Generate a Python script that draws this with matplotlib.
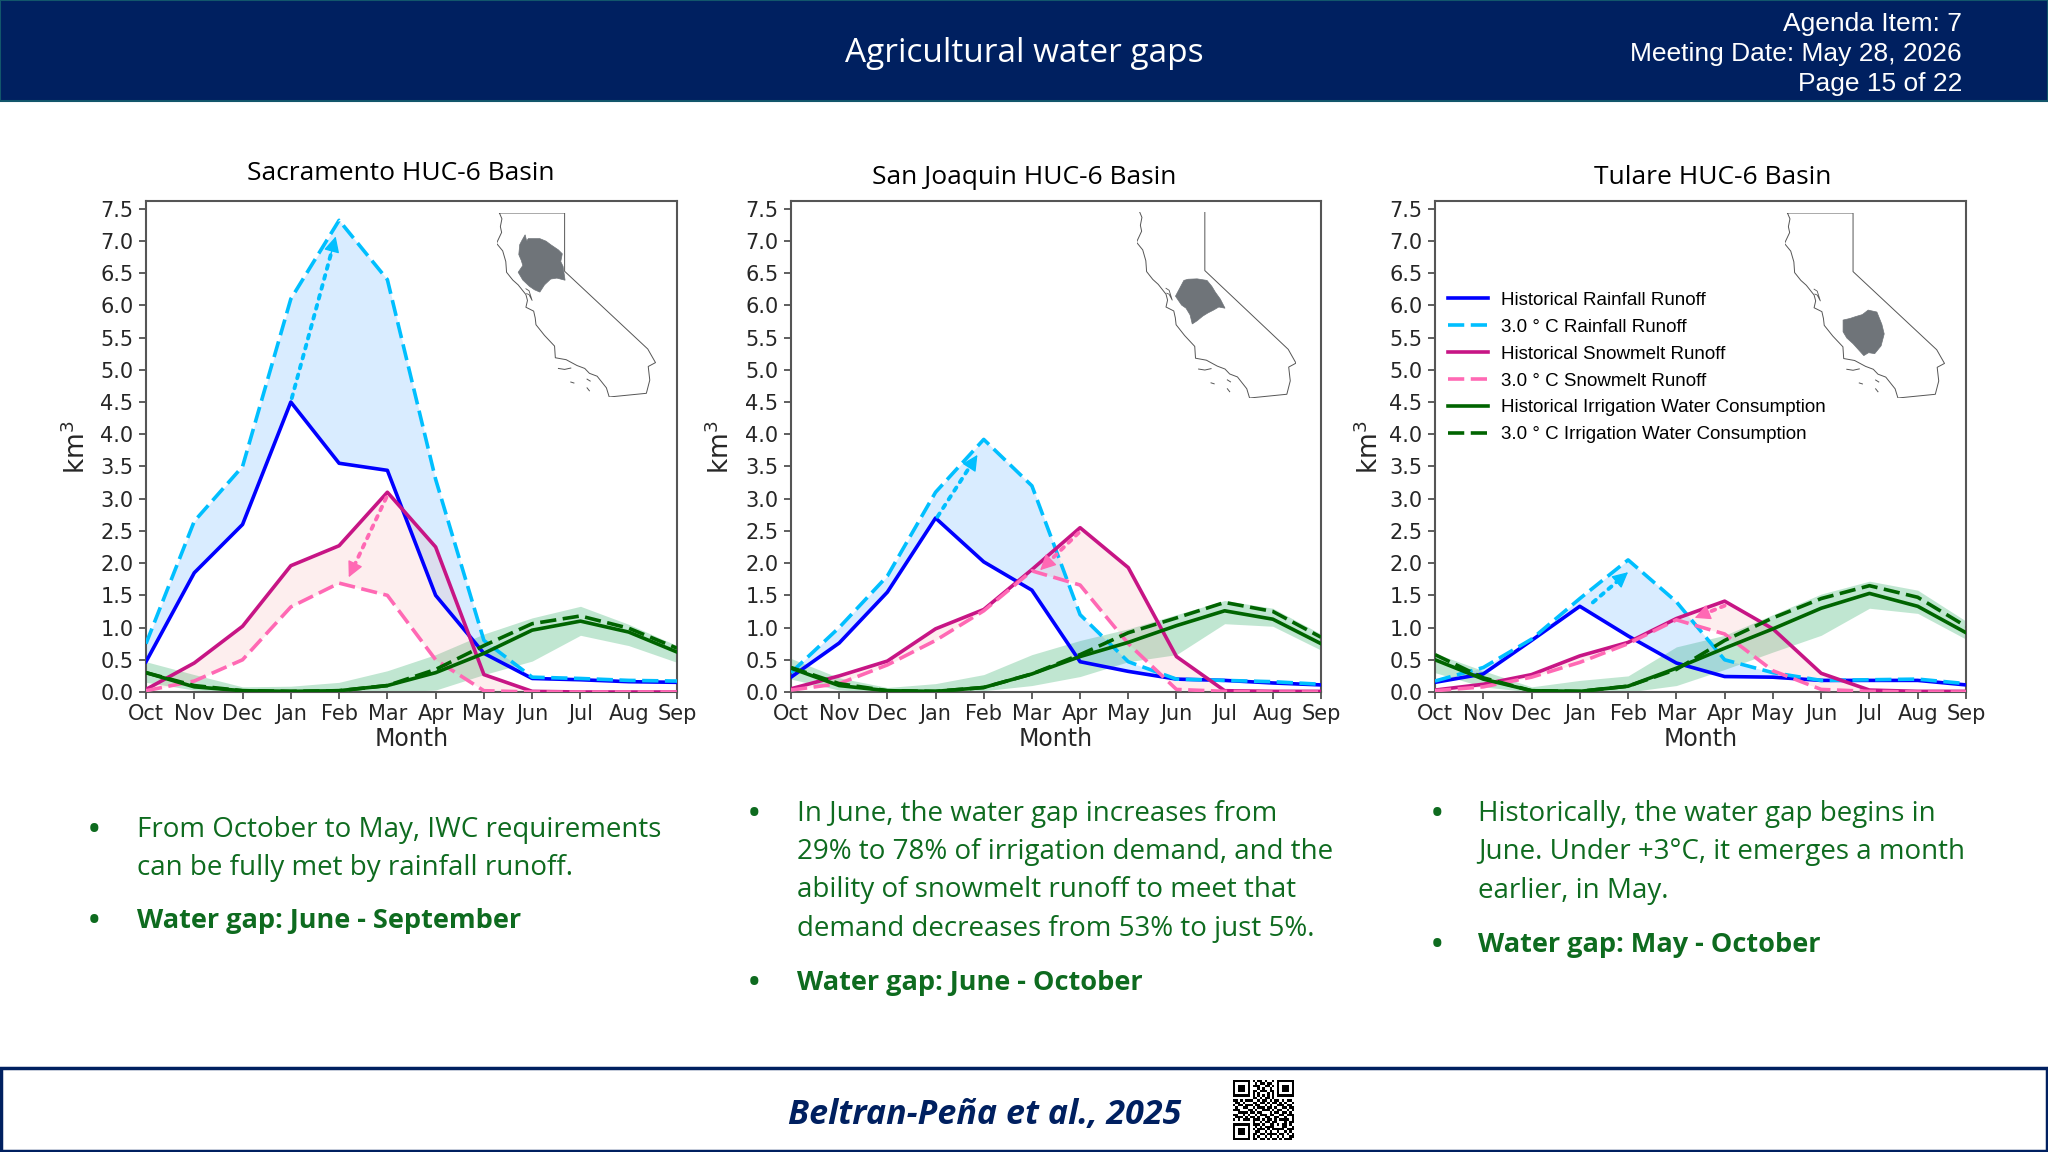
import matplotlib
matplotlib.use("Agg")
import matplotlib.pyplot as plt
import numpy as np
from matplotlib.patches import Rectangle

W, H = 2048, 1152

months = ["Oct", "Nov", "Dec", "Jan", "Feb", "Mar", "Apr", "May", "Jun", "Jul", "Aug", "Sep"]
yticks = [0.0, 0.5, 1.0, 1.5, 2.0, 2.5, 3.0, 3.5, 4.0, 4.5, 5.0, 5.5, 6.0, 6.5, 7.0, 7.5]

# Sacramento
sac_rain = [0.47, 1.85, 2.6, 4.5, 3.55, 3.44, 1.5, 0.6, 0.21, 0.19, 0.16, 0.15]
sac_rain_3c = [0.75, 2.65, 3.5, 6.1, 7.32, 6.4, 3.3, 0.8, 0.23, 0.21, 0.18, 0.17]
sac_snow = [0.04, 0.45, 1.02, 1.96, 2.27, 3.1, 2.25, 0.27, 0.01, 0.0, 0.0, 0.0]
sac_snow_3c = [0.02, 0.17, 0.5, 1.32, 1.69, 1.5, 0.5, 0.02, 0.0, 0.0, 0.0, 0.0]
sac_iwc = [0.3, 0.08, 0.02, 0.01, 0.02, 0.1, 0.3, 0.6, 0.96, 1.1, 0.93, 0.62]
sac_iwc_3c = [0.3, 0.1, 0.02, 0.01, 0.02, 0.1, 0.35, 0.72, 1.06, 1.18, 0.99, 0.68]
sac_iwc_hi = [0.47, 0.27, 0.08, 0.09, 0.15, 0.33, 0.58, 0.9, 1.15, 1.33, 1.05, 0.72]
sac_iwc_lo = [0.15, 0.03, 0.0, 0.0, 0.0, 0.0, 0.03, 0.27, 0.48, 0.88, 0.72, 0.46]

# San Joaquin
sj_rain = [0.23, 0.76, 1.55, 2.7, 2.02, 1.58, 0.47, 0.32, 0.2, 0.18, 0.14, 0.11]
sj_rain_3c = [0.3, 1.0, 1.8, 3.1, 3.92, 3.2, 1.2, 0.47, 0.2, 0.18, 0.16, 0.12]
sj_snow = [0.05, 0.25, 0.48, 0.98, 1.28, 1.9, 2.55, 1.93, 0.55, 0.02, 0.01, 0.01]
sj_snow_3c = [0.03, 0.13, 0.42, 0.8, 1.26, 1.88, 1.66, 0.75, 0.04, 0.01, 0.0, 0.0]
sj_iwc = [0.37, 0.1, 0.02, 0.01, 0.07, 0.28, 0.55, 0.77, 1.03, 1.26, 1.13, 0.75]
sj_iwc_3c = [0.38, 0.13, 0.02, 0.01, 0.07, 0.28, 0.58, 0.92, 1.15, 1.39, 1.25, 0.85]
sj_iwc_hi = [0.52, 0.22, 0.07, 0.13, 0.27, 0.58, 0.8, 0.98, 1.2, 1.42, 1.3, 0.9]
sj_iwc_lo = [0.2, 0.03, 0.0, 0.0, 0.02, 0.1, 0.24, 0.47, 0.58, 1.06, 1.02, 0.65]

# Tulare
tul_rain = [0.15, 0.28, 0.8, 1.33, 0.87, 0.45, 0.24, 0.23, 0.18, 0.18, 0.18, 0.11]
tul_rain_3c = [0.17, 0.38, 0.82, 1.45, 2.05, 1.4, 0.5, 0.3, 0.18, 0.19, 0.2, 0.13]
tul_snow = [0.03, 0.12, 0.27, 0.56, 0.77, 1.14, 1.41, 0.98, 0.29, 0.03, 0.01, 0.01]
tul_snow_3c = [0.02, 0.08, 0.23, 0.46, 0.75, 1.12, 0.9, 0.33, 0.04, 0.01, 0.0, 0.0]
tul_iwc = [0.5, 0.2, 0.02, 0.01, 0.09, 0.37, 0.68, 0.98, 1.3, 1.53, 1.33, 0.92]
tul_iwc_3c = [0.58, 0.22, 0.02, 0.01, 0.09, 0.35, 0.8, 1.15, 1.45, 1.65, 1.47, 1.02]
tul_iwc_hi = [0.6, 0.33, 0.08, 0.18, 0.25, 0.7, 0.88, 1.2, 1.52, 1.72, 1.58, 1.1]
tul_iwc_lo = [0.3, 0.08, 0.0, 0.0, 0.0, 0.1, 0.35, 0.62, 0.88, 1.3, 1.22, 0.82]

# map outlines, lon / lat
ca_lon = [-124.21, -124.05, -124.15, -124.07, -124.4, -124.0, -123.8, -123.75, -123.35, -123.0, -122.5, -122.4, -122.5, -122.0, -121.9,
          -121.85, -121.3, -120.65, -120.6, -119.9, -119.2, -118.7, -118.4, -117.9, -117.3, -117.12, -114.72, -114.5, -114.6, -114.13, -114.63,
          -120.0, -120.0, -124.21]
ca_lat = [42.0, 41.7, 41.3, 41.0, 40.44, 40.05, 39.5, 38.95, 38.55, 38.3, 37.8, 37.5, 37.15, 36.95, 36.6,
          36.25, 35.7, 35.15, 34.55, 34.45, 34.15, 34.0, 33.75, 33.6, 33.0, 32.53, 32.72, 33.4, 34.1, 34.3, 35.0,
          39.0, 42.0, 42.0]
bay_lon = [-122.5, -122.3, -122.1, -122.3, -122.45]
bay_lat = [38.1, 38.0, 37.5, 37.8, 37.85]
isl_lon = [[-120.4, -120.0, -119.6], [-119.6, -119.4], [-118.55, -118.35], [-118.55, -118.4]]
isl_lat = [[34.0, 33.95, 34.02], [33.3, 33.25], [33.45, 33.35], [33.0, 32.85]]

sac_basin_lon = [-122.55, -122.45, -122.35, -121.6, -121.2, -120.9, -120.4, -120.15, -120.25, -120.1, -119.97, -120.5, -120.9, -121.3, -121.6, -121.95, -122.28, -122.7, -123.0, -122.7, -122.8, -122.96, -122.9, -122.75]
sac_basin_lat = [40.88, 40.55, 40.68, 40.68, 40.55, 40.37, 40.1, 39.9, 39.5, 39.25, 38.54, 38.65, 38.6, 38.3, 37.93, 38.05, 38.23, 38.55, 38.95, 39.3, 39.56, 39.86, 40.37, 40.6]
sj_basin_lon = [-121.62, -121.35, -121.08, -120.5, -119.86, -119.55, -119.32, -119.0, -118.7, -119.1, -119.45, -119.8, -120.13, -120.5, -120.81, -120.95, -121.21, -121.5, -121.89]
sj_basin_lat = [38.1, 38.5, 38.56, 38.58, 38.5, 38.2, 37.9, 37.55, 37.09, 37.15, 36.99, 36.85, 36.69, 36.45, 36.29, 36.75, 37.09, 37.25, 37.7]
tul_basin_lon = [-120.64, -120.2, -119.86, -119.4, -119.03, -118.47, -118.15, -118.0, -118.2, -118.61, -119.0, -119.31, -120.0, -120.4, -120.64]
tul_basin_lat = [36.52, 36.6, 36.69, 36.8, 37.03, 36.93, 36.3, 35.81, 35.2, 34.8, 34.85, 34.7, 35.31, 35.6, 35.92]

qr_rows = [
    "1111111010110100101111111",
    "1000001001011011001000001",
    "1011101011100110101011101",
    "1011101000101001001011101",
    "1011101011011101101011101",
    "1000001010100010101000001",
    "1111111010101010101111111",
    "0000000011010110100000000",
    "1101011100101101011010110",
    "0110100011011010110101001",
    "1011011101100101001110110",
    "0100110010111011010011011",
    "1110001101001110101100101",
    "0011110110110001011011010",
    "1100101001011101100110111",
    "0111010110100110011001001",
    "1010111011101011010111101",
    "0000000010010110110001011",
    "1111111011101001101011010",
    "1000001001010111100011001",
    "1011101010111010111110111",
    "1011101001100101001001010",
    "1011101011011011110110101",
    "1000001010100101001010011",
    "1111111011011010110101110",
]

green = "#0e6b1f"
navy = "#002060"
bullet_font = "Open Sans"


def to_fig(x, y):
    return x / W, 1 - y / H


def pixel_axes(left, top, right, bottom, **kw):
    return fig.add_axes([left / W, 1 - bottom / H, (right - left) / W, (bottom - top) / H], **kw)


fig = plt.figure(figsize=(W / 100, H / 100), dpi=100, facecolor="white")

# header and footer
fig.add_artist(Rectangle((0, 1 - 101 / H), 1, 101 / H, transform=fig.transFigure,
                         facecolor=navy, edgecolor="#12566b", lw=1.5, zorder=-2))
fig.add_artist(Rectangle((1 / W, 1 / H), 1 - 2 / W, 83 / H, transform=fig.transFigure,
                         facecolor="white", edgecolor=navy, lw=2.5, zorder=-2))
x, y = to_fig(1024, 54)
fig.text(x, y, "Agricultural water gaps", color="white", fontsize=24, family="Open Sans",
         ha="center", va="center")
for txt, ypx in zip(["Agenda Item: 7", "Meeting Date: May 28, 2026", "Page 15 of 22"], [24, 54, 84]):
    x, y = to_fig(1962, ypx)
    fig.text(x, y, txt, color="white", fontsize=19, family="Liberation Sans", ha="right", va="center")

x, y = to_fig(985, 1115)
fig.text(x, y, "Beltran-Peña et al., 2025", color=navy, fontsize=24.5, family="Open Sans",
         weight="bold", style="italic", ha="center", va="center")

qr_ax = pixel_axes(1233, 1080, 1294, 1140)
qr_ax.imshow([[int(c) for c in row] for row in qr_rows], cmap="gray_r", interpolation="nearest", aspect="auto")
qr_ax.axis("off")

panels = [
    dict(title="Sacramento HUC-6 Basin", title_xy=(401, 174), box=(146, 677), ylab_x=77,
         rain=sac_rain, rain_3c=sac_rain_3c, snow=sac_snow, snow_3c=sac_snow_3c,
         iwc=sac_iwc, iwc_3c=sac_iwc_3c, hi=sac_iwc_hi, lo=sac_iwc_lo,
         rain_arrow=((3.02, 4.56), (3.93, 7.07)), snow_arrow=((4.98, 3.02), (4.2, 1.78)),
         map_box=(496.5, 213, 655.5, 397), basin=(sac_basin_lon, sac_basin_lat)),
    dict(title="San Joaquin HUC-6 Basin", title_xy=(1024, 178), box=(791, 1321), ylab_x=721,
         rain=sj_rain, rain_3c=sj_rain_3c, snow=sj_snow, snow_3c=sj_snow_3c,
         iwc=sj_iwc, iwc_3c=sj_iwc_3c, hi=sj_iwc_hi, lo=sj_iwc_lo,
         rain_arrow=((3.04, 2.72), (3.87, 3.68)), snow_arrow=((5.97, 2.47), (5.17, 1.89)),
         map_box=(1136.5, 211.5, 1296, 398), basin=(sj_basin_lon, sj_basin_lat)),
    dict(title="Tulare HUC-6 Basin", title_xy=(1713, 177), box=(1435, 1966), ylab_x=1370,
         rain=tul_rain, rain_3c=tul_rain_3c, snow=tul_snow, snow_3c=tul_snow_3c,
         iwc=tul_iwc, iwc_3c=tul_iwc_3c, hi=tul_iwc_hi, lo=tul_iwc_lo,
         rain_arrow=((3.27, 1.39), (4.0, 1.86)), snow_arrow=((6.0, 1.34), (5.38, 1.15)),
         map_box=(1784.5, 213, 1944.5, 398), basin=(tul_basin_lon, tul_basin_lat)),
]

xs = np.arange(12)
axes = []
for p in panels:
    ax = pixel_axes(p["box"][0], 201, p["box"][1], 692)
    axes.append(ax)

    ax.fill_between(xs, p["lo"], p["hi"], color="mediumseagreen", alpha=0.32, lw=0)
    ax.fill_between(xs, p["rain"], p["rain_3c"], color="dodgerblue", alpha=0.17, lw=0)
    ax.fill_between(xs, p["snow"], p["snow_3c"], color="lightcoral", alpha=0.13, lw=0)

    ax.plot(xs, p["rain"], color="blue", lw=2.6, label="Historical Rainfall Runoff", zorder=3)
    ax.plot(xs, p["rain_3c"], color="deepskyblue", lw=2.6, ls=(0, (4.5, 1.8)), label="3.0 ° C Rainfall Runoff", zorder=3)
    ax.plot(xs, p["snow"], color="mediumvioletred", lw=2.6, label="Historical Snowmelt Runoff", zorder=3)
    ax.plot(xs, p["snow_3c"], color="hotpink", lw=2.6, ls=(0, (4.5, 1.8)), label="3.0 ° C Snowmelt Runoff", zorder=3)
    ax.plot(xs, p["iwc"], color="darkgreen", lw=2.6, label="Historical Irrigation Water Consumption", zorder=3)
    ax.plot(xs, p["iwc_3c"], color="darkgreen", lw=2.6, ls=(0, (4.5, 1.8)), label="3.0 ° C Irrigation Water Consumption", zorder=3)

    # dotted shaft, then a solid head on the last bit of it
    for arrow, col in zip([p["rain_arrow"], p["snow_arrow"]], ["deepskyblue", "hotpink"]):
        start, tip = np.array(arrow[0]), np.array(arrow[1])
        ax.annotate("", xy=tip, xytext=start, zorder=4,
                    arrowprops=dict(arrowstyle="-", color=col, lw=2.8, ls=":", shrinkA=0, shrinkB=6))
        ax.annotate("", xy=tip, xytext=tip - 0.12 * (tip - start), zorder=4,
                    arrowprops=dict(arrowstyle="-|>", color=col, lw=1, mutation_scale=24, shrinkA=0, shrinkB=0))

    ax.set_xlim(0, 11)
    ax.set_ylim(0, 7.62)
    ax.set_xticks(xs)
    ax.set_xticklabels(months)
    ax.set_yticks(yticks)
    ax.set_yticklabels([f"{t:.1f}" for t in yticks])
    ax.tick_params(labelsize=15, length=5, width=1.1, color="#333333", labelcolor="#262626", pad=4)
    ax.set_xlabel("Month", fontsize=17, color="#262626", labelpad=2)
    for s in ax.spines.values():
        s.set_color("#555555")
        s.set_linewidth(1.5)

    x, y = to_fig(*p["title_xy"])
    fig.text(x, y, p["title"], fontsize=19, family="Open Sans", color="black", ha="center", va="center")
    x, y = to_fig(p["ylab_x"], 447)
    fig.text(x, y, "km$^3$", fontsize=19, color="#262626", rotation=90, ha="center", va="center")

    # small state map
    mx0, my0, mx1, my1 = p["map_box"]
    m = pixel_axes(mx0, my0, mx1, my1)
    m.patch.set_alpha(0)
    m.fill(p["basin"][0], p["basin"][1], color="#6f7479", lw=0.5)
    m.plot(ca_lon, ca_lat, color="#555555", lw=0.7)
    m.plot(bay_lon, bay_lat, color="#555555", lw=0.6)
    for lo_, la_ in zip(isl_lon, isl_lat):
        m.plot(lo_, la_, color="#555555", lw=0.7)
    m.set_xlim(-124.4, -114.13)
    m.set_ylim(32.53, 42.0)
    m.axis("off")

axes[2].legend(loc="upper left", bbox_to_anchor=(0.025, 0.815), frameon=False,
               prop={"family": "Liberation Sans", "size": 13.5}, handlelength=2.1, handletextpad=0.7,
               labelspacing=0.52, borderaxespad=0, borderpad=0)

# bullet text under each panel
col_text = [
    (94, 137, [("From October to May, IWC requirements", 830, False),
               ("can be fully met by rainfall runoff.", 868, False),
               ("Water gap: June - September", 921, True)], [832, 923]),
    (754, 797, [("In June, the water gap increases from", 814, False),
                ("29% to 78% of irrigation demand, and the", 852, False),
                ("ability of snowmelt runoff to meet that", 890, False),
                ("demand decreases from 53% to just 5%.", 929, False),
                ("Water gap: June - October", 983, True)], [816, 985]),
    (1437, 1478, [("Historically, the water gap begins in", 814, False),
                  ("June. Under +3°C, it emerges a month", 852, False),
                  ("earlier, in May.", 891, False),
                  ("Water gap: May - October", 945, True)], [816, 947]),
]
for bx, tx, lines, bullets in col_text:
    for txt, ypx, bold in lines:
        x, y = to_fig(tx, ypx)
        fig.text(x, y, txt, color=green, fontsize=19.5 if bold else 20, family=bullet_font,
                 weight="bold" if bold else "normal", ha="left", va="center")
    for ypx in bullets:
        x, y = to_fig(bx, ypx)
        fig.text(x, y, "•", color=green, fontsize=28, family=bullet_font, ha="center", va="center")

fig.savefig("out.png", dpi=100)
